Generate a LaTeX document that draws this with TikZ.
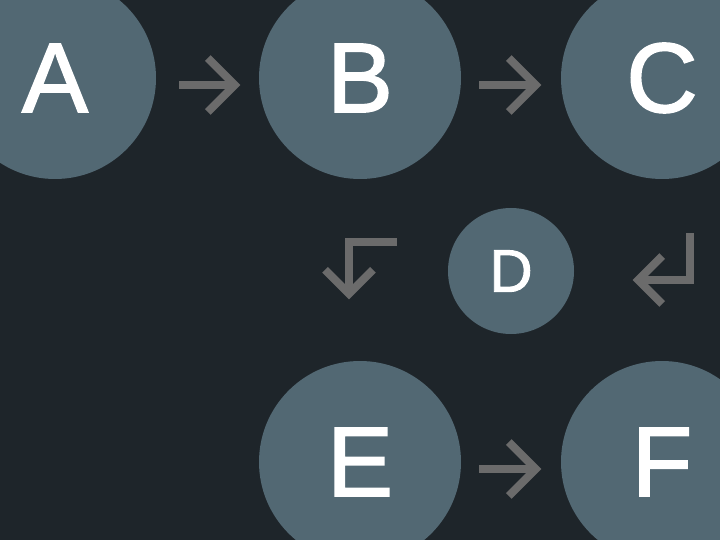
\documentclass[tikz,border=0pt]{standalone}
\usepackage{fontspec}
\setmainfont{Liberation Sans}
\newfontfamily\letterfont[FakeBold=1.6]{Liberation Sans}
\usetikzlibrary{calc}
\definecolor{bgc}{HTML}{1E252A}
\definecolor{nodec}{HTML}{526873}
\definecolor{arrc}{HTML}{6B6B6B}
\begin{document}
\begin{tikzpicture}[x=1pt,y=-1pt,
  big/.style={circle, fill=nodec, minimum size=202pt, inner sep=0pt, text=white, font=\letterfont\fontsize{99}{99}\selectfont},
  small/.style={circle, fill=nodec, minimum size=126pt, inner sep=0pt, text=white, font=\letterfont\fontsize{60}{60}\selectfont},
  arrline/.style={draw=arrc, line width=8pt, line cap=butt, line join=miter, miter limit=10}]
\fill[bgc] (0,0) rectangle (720,540);
\useasboundingbox (0,0) rectangle (720,540);
\clip (0,0) rectangle (720,540);
\node[big] (A) at (55,78) {A};
\node[big] (B) at (360,78) {B};
\node[big] (C) at (662,78) {C};
\node[small] (D) at (511,271) {D};
\node[big] (E) at (360,462) {E};
\node[big] (F) at (662,462) {F};
% A -> B
\coordinate (abT) at ($(A.east)+(23,7)$);
\coordinate (abH) at ($(B.west)+(-24,7)$);
\draw[arrline] (abT) -- (abH);
\draw[arrline] ($(abH)+(-27,-27)$) -- (abH) -- ($(abH)+(-27,27)$);
% B -> C
\coordinate (bcT) at ($(B.east)+(18,7)$);
\coordinate (bcH) at ($(C.west)+(-25,7)$);
\draw[arrline] (bcT) -- (bcH);
\draw[arrline] ($(bcH)+(-27,-27)$) -- (bcH) -- ($(bcH)+(-27,27)$);
% C -> D
\coordinate (cdT) at ($(C.south)+(28,54)$);
\coordinate (cdH) at ($(D.east)+(64,9)$);
\draw[arrline] (cdT) |- (cdH);
\draw[arrline] ($(cdH)+(24,-24)$) -- (cdH) -- ($(cdH)+(24,24)$);
% D -> E
\coordinate (deT) at ($(D.west)+(-51,-29)$);
\coordinate (deH) at ($(E.north)+(-11,-67)$);
\draw[arrline] (deT) -| (deH);
\draw[arrline] ($(deH)+(-24,-24)$) -- (deH) -- ($(deH)+(24,-24)$);
% E -> F
\coordinate (efT) at ($(E.east)+(18,7)$);
\coordinate (efH) at ($(F.west)+(-25,7)$);
\draw[arrline] (efT) -- (efH);
\draw[arrline] ($(efH)+(-27,-27)$) -- (efH) -- ($(efH)+(-27,27)$);
\end{tikzpicture}
\end{document}
